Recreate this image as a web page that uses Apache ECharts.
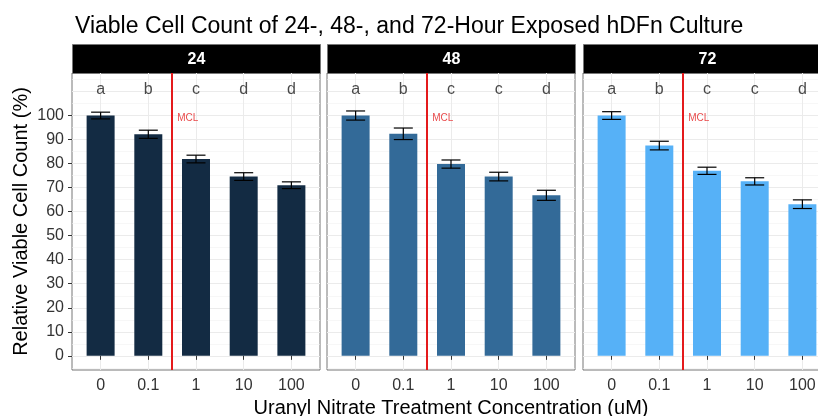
<!DOCTYPE html>
<html>
<head>
<meta charset="utf-8">
<script src="https://cdn.jsdelivr.net/npm/echarts@6/dist/echarts.min.js"></script>
<style>
html, body { margin: 0; padding: 0; background: #fff; }
#main { width: 818px; height: 416px; }
</style>
</head>
<body>
<div id="main"></div>
<script>
// 浓度分类
var concentrations = ['0', '0.1', '1', '10', '100']
var hours = ['24', '48', '72']
// 各时段的平均值和误差
var mean24 = [100, 92.2, 81.9, 74.6, 71.0]
var err24 = [1.4, 1.7, 1.6, 1.6, 1.4]
var mean48 = [100, 92.4, 79.8, 74.6, 66.8]
var err48 = [1.9, 2.4, 1.7, 1.8, 2.1]
var mean72 = [100, 87.5, 77.0, 72.6, 63.1]
var err72 = [1.6, 1.8, 1.5, 1.5, 1.8]
// 显著性字母
var letters24 = ['a', 'b', 'c', 'd', 'd']
var letters48 = ['a', 'b', 'c', 'c', 'd']
var letters72 = ['a', 'b', 'c', 'c', 'd']
var yTicks = [0, 10, 20, 30, 40, 50, 60, 70, 80, 90, 100]
var majorGrid = [0, 10, 20, 30, 40, 50, 60, 70, 80, 90, 100, 110]
var minorGrid = [-5, 5, 15, 25, 35, 45, 55, 65, 75, 85, 95, 105, 115]
var mclPos = 2.5
var letterY = 111
var mclY = 99

var means = [mean24, mean48, mean72]
var errs = [err24, err48, err72]
var letters = [letters24, letters48, letters72]
var colors = ['#132B43', '#336A98', '#56B1F7']
var panelLeft = [72, 327, 583]
var panelW = 248
var panelTop = 73
var panelH = 297
var yMin = -5.9
var yMax = 117.7
var font = 'Liberation Sans, Arial, sans-serif'

var myChart = echarts.init(document.getElementById('main'), null, {renderer: 'canvas'})

var grids = []
var xAxes = []
var yAxes = []
var series = []
var graphics = []

for (var p = 0; p < 3; p++) {
    grids.push({
        left: panelLeft[p], top: panelTop, width: panelW, height: panelH,
        outerBoundsMode: 'none', containLabel: false,
        show: true, backgroundColor: '#fff', borderColor: '#777', borderWidth: 1
    })
    var xa = {
        type: 'value', gridIndex: p, min: 0.4, max: 5.6,
        axisLine: {show: false},
        axisTick: {show: true, customValues: [1, 2, 3, 4, 5], length: 4, lineStyle: {color: '#333'}},
        axisLabel: {
            customValues: [1, 2, 3, 4, 5], margin: 8, color: '#333', fontSize: 16, fontFamily: font,
            formatter: function (v) { return concentrations[Math.round(v) - 1] }
        },
        splitLine: {show: true, lineStyle: {color: '#ebebeb', width: 1}}
    }
    if (p === 1) {
        xa.name = 'Uranyl Nitrate Treatment Concentration (uM)'
        xa.nameLocation = 'middle'
        xa.nameGap = 25
        xa.nameTextStyle = {color: '#000', fontSize: 20, fontFamily: font}
    }
    xAxes.push(xa)

    // 数据轴
    var ya = {
        type: 'value', gridIndex: p, min: yMin, max: yMax,
        axisLine: {show: false},
        axisTick: {show: p === 0, customValues: yTicks, length: 4, lineStyle: {color: '#333'}},
        axisLabel: {show: p === 0, customValues: yTicks, margin: 8, color: '#333', fontSize: 16, fontFamily: font},
        splitLine: {show: false}
    }
    if (p === 0) {
        ya.name = 'Relative Viable Cell Count (%)'
        ya.nameLocation = 'middle'
        ya.nameGap = 41
        ya.nameRotate = 90
        ya.nameTextStyle = {color: '#000', fontSize: 20, fontFamily: font}
    }
    yAxes.push(ya)
    // 次网格线
    yAxes.push({
        type: 'value', gridIndex: p, min: yMin, max: yMax, position: 'right',
        axisLine: {show: false}, axisLabel: {show: false},
        axisTick: {show: false, customValues: minorGrid},
        splitLine: {show: true, lineStyle: {color: '#f2f2f2', width: 0.6}}
    })
    // 主网格线
    yAxes.push({
        type: 'value', gridIndex: p, min: yMin, max: yMax, position: 'right',
        axisLine: {show: false}, axisLabel: {show: false},
        axisTick: {show: false, customValues: majorGrid},
        splitLine: {show: true, lineStyle: {color: '#ebebeb', width: 1}}
    })

    var barData = []
    var errData = []
    var letterData = []
    for (var i = 0; i < concentrations.length; i++) {
        barData.push([i + 1, means[p][i]])
        errData.push([i + 1, means[p][i] - errs[p][i], means[p][i] + errs[p][i]])
        letterData.push({value: [i + 1, letterY], label: {formatter: letters[p][i]}})
    }
    var yIdx = p * 3

    series.push({
        type: 'bar', xAxisIndex: p, yAxisIndex: yIdx, data: barData, barWidth: 28,
        itemStyle: {color: colors[p]}, silent: true,
        markLine: {
            silent: true, symbol: 'none', label: {show: false},
            lineStyle: {color: '#e41a1c', width: 2, type: 'solid'},
            data: [{xAxis: mclPos}]
        }
    })
    series.push({
        type: 'custom', xAxisIndex: p, yAxisIndex: yIdx, data: errData, silent: true, z: 5,
        renderItem: function (params, api) {
            var x = api.value(0)
            var lo = api.coord([x, api.value(1)])
            var hi = api.coord([x, api.value(2)])
            var half = 9.5
            var style = {stroke: '#000', lineWidth: 1.2}
            return {
                type: 'group',
                children: [
                    {type: 'line', shape: {x1: lo[0], y1: lo[1], x2: hi[0], y2: hi[1]}, style: style},
                    {type: 'line', shape: {x1: lo[0] - half, y1: lo[1], x2: lo[0] + half, y2: lo[1]}, style: style},
                    {type: 'line', shape: {x1: hi[0] - half, y1: hi[1], x2: hi[0] + half, y2: hi[1]}, style: style}
                ]
            }
        }
    })
    series.push({
        type: 'scatter', xAxisIndex: p, yAxisIndex: yIdx, data: letterData, symbolSize: 0, silent: true,
        label: {show: true, position: 'inside', color: '#1a1a1a', fontSize: 16, fontFamily: font}
    })
    series.push({
        type: 'scatter', xAxisIndex: p, yAxisIndex: yIdx, data: [[mclPos, mclY]], symbolSize: 0, silent: true,
        label: {show: true, position: 'right', distance: 5, formatter: 'MCL', color: '#e41a1c', fontSize: 10, fontFamily: font}
    })

    // 分面标签条
    graphics.push({
        type: 'group', left: panelLeft[p], top: 44,
        children: [
            {type: 'rect', shape: {x: 0, y: 0, width: panelW, height: 29}, style: {fill: '#000', stroke: '#777', lineWidth: 1}},
            {type: 'text', x: panelW / 2, y: 15, style: {text: hours[p], fill: '#fff', font: 'bold 16px ' + font, textAlign: 'center', textVerticalAlign: 'middle'}}
        ]
    })
}

var option = {
    backgroundColor: '#fff',
    animation: false,
    title: {
        text: 'Viable Cell Count of 24-, 48-, and 72-Hour Exposed hDFn Culture',
        left: 70, top: 10,
        textStyle: {color: '#000', fontSize: 23, fontWeight: 'normal', fontFamily: font}
    },
    grid: grids,
    xAxis: xAxes,
    yAxis: yAxes,
    series: series,
    graphic: graphics
}
myChart.setOption(option)
</script>
</body>
</html>
